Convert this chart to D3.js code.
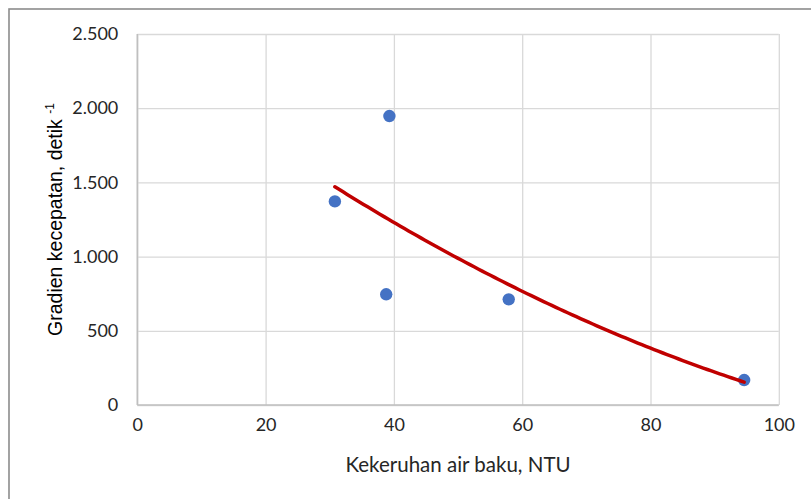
<!DOCTYPE html>
<html>
<head>
<meta charset="utf-8">
<script src="https://cdn.jsdelivr.net/npm/d3@7/dist/d3.min.js"></script>
<style>
  html, body { margin: 0; padding: 0; background: #fff; }
  svg { display: block; }
</style>
</head>
<body>
<svg id="chart" width="811" height="499"></svg>
<script>
// Turbidity of raw water (NTU) vs velocity gradient (1/s)
const turbidity = [30.8, 39.3, 38.8, 57.9, 94.6];
const gradient  = [1372, 1947, 746, 712, 168];
const xTicks = [0, 20, 40, 60, 80, 100];
const yTicks = [0, 500, 1000, 1500, 2000, 2500];

const W = 811, H = 499;
const margin = { left: 137.3, right: W - 778.8, top: 34, bottom: H - 405 };

const svg = d3.select("#chart");

// outer chart frame (only the left and top edges fall inside the view)
svg.append("rect")
  .attr("x", 9).attr("y", 9)
  .attr("width", W + 20).attr("height", H + 20)
  .attr("fill", "none").attr("stroke", "#8c8c8c").attr("stroke-width", 1.6);

const x = d3.scaleLinear().domain([0, 100]).range([margin.left, W - margin.right]);
const y = d3.scaleLinear().domain([0, 2500]).range([H - margin.bottom, margin.top]);

const fmt = d3.formatLocale({ decimal: ",", thousands: ".", grouping: [3], currency: ["", ""] }).format(",d");

// vertical gridlines + x tick labels
const xAxis = d3.axisBottom(x).tickValues(xTicks).tickSize(-(y(0) - y(2500))).tickPadding(13).tickFormat(d3.format("d"));
const gx = svg.append("g").attr("transform", `translate(0,${y(0)})`).call(xAxis);
gx.select(".domain").remove();
gx.selectAll(".tick line").attr("stroke", "#d9d9d9").attr("stroke-width", 1.3);
gx.selectAll(".tick text")
  .attr("font-family", "Lato, 'Open Sans', sans-serif").attr("font-size", 18).attr("fill", "#262626");

// horizontal gridlines + y tick labels
const yAxis = d3.axisLeft(y).tickValues(yTicks).tickSize(-(x(100) - x(0))).tickPadding(19).tickFormat(fmt);
const gy = svg.append("g").attr("transform", `translate(${x(0)},0)`).call(yAxis);
gy.select(".domain").remove();
gy.selectAll(".tick line").attr("stroke", "#d9d9d9").attr("stroke-width", 1.3);
gy.selectAll(".tick text")
  .attr("font-family", "Lato, 'Open Sans', sans-serif").attr("font-size", 18).attr("fill", "#262626");

// axis baselines
svg.append("line").attr("x1", x(0)).attr("x2", x(100)).attr("y1", y(0)).attr("y2", y(0))
  .attr("stroke", "#bfbfbf").attr("stroke-width", 1.6);
svg.append("line").attr("x1", x(0)).attr("x2", x(0)).attr("y1", y(0)).attr("y2", y(2500))
  .attr("stroke", "#bfbfbf").attr("stroke-width", 1.6);

// second-order polynomial trend (least squares on the data points)
function polyFit2(xs, ys) {
  const n = xs.length;
  let s = [0, 0, 0, 0, 0], t = [0, 0, 0];
  for (let i = 0; i < n; i++) {
    for (let k = 0; k < 5; k++) s[k] += Math.pow(xs[i], k);
    for (let k = 0; k < 3; k++) t[k] += ys[i] * Math.pow(xs[i], k);
  }
  const A = [[s[0], s[1], s[2], t[0]], [s[1], s[2], s[3], t[1]], [s[2], s[3], s[4], t[2]]];
  for (let c = 0; c < 3; c++) {
    for (let r = c + 1; r < 3; r++) {
      const f = A[r][c] / A[c][c];
      for (let k = c; k < 4; k++) A[r][k] -= f * A[c][k];
    }
  }
  const coef = [0, 0, 0];
  for (let r = 2; r >= 0; r--) {
    let v = A[r][3];
    for (let k = r + 1; k < 3; k++) v -= A[r][k] * coef[k];
    coef[r] = v / A[r][r];
  }
  return coef;
}
const coef = polyFit2(turbidity, gradient);
const xMin = d3.min(turbidity), xMax = d3.max(turbidity);
const trend = d3.range(0, 101).map(i => {
  const xv = xMin + (xMax - xMin) * i / 100;
  return [xv, coef[0] + coef[1] * xv + coef[2] * xv * xv];
});

// data points
const pts = turbidity.map((t, i) => ({ t, g: gradient[i] }));
svg.append("g").selectAll("circle").data(pts).join("circle")
  .attr("cx", d => x(d.t)).attr("cy", d => y(d.g)).attr("r", 6.2)
  .attr("fill", "#4472c4");

svg.append("path").datum(trend)
  .attr("d", d3.line().x(d => x(d[0])).y(d => y(d[1])))
  .attr("fill", "none").attr("stroke", "#c00000").attr("stroke-width", 3.5)
  .attr("stroke-linecap", "round");

// axis titles
svg.append("text")
  .attr("x", (x(0) + x(100)) / 2).attr("y", 472)
  .attr("text-anchor", "middle")
  .attr("font-family", "Lato, 'Open Sans', sans-serif").attr("font-size", 20.5).attr("fill", "#262626")
  .text("Kekeruhan air baku, NTU");

const yt = svg.append("text")
  .attr("transform", `translate(62,${(y(0) + y(2500)) / 2}) rotate(-90)`)
  .attr("text-anchor", "middle")
  .attr("font-family", "'Liberation Sans', Arial, sans-serif").attr("font-size", 19.5).attr("fill", "#000");
yt.append("tspan").text("Gradien kecepatan, detik ");
yt.append("tspan").attr("font-size", 12).attr("dy", -8).text("-1");
</script>
</body>
</html>
